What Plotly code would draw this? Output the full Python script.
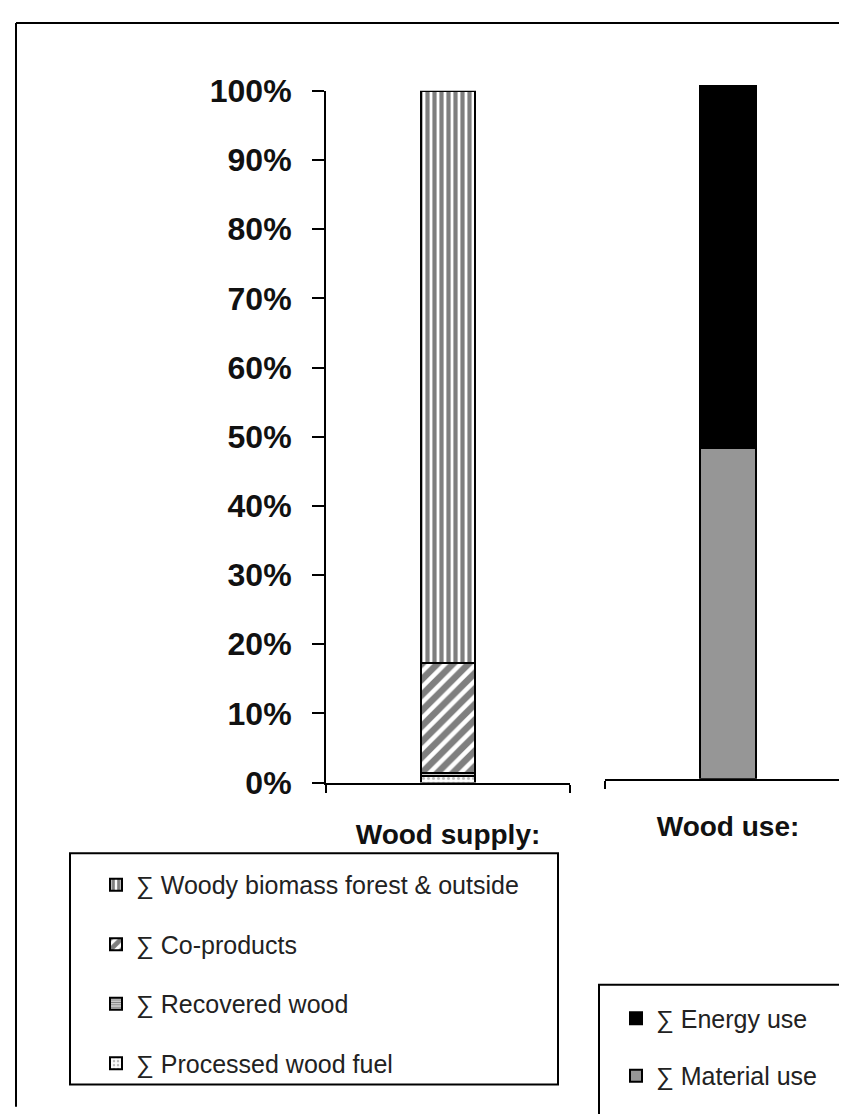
import plotly.graph_objects as go

# the page body adds an 8px margin, so the figure is drawn 8px smaller and
# every reference pixel position is shifted by OFF
OFF = 8
W, H = 847 - OFF, 1114 - OFF

# data (percent of total)
supply_cat = ["Wood supply:"]
supply_names = ["∑ Processed wood fuel", "∑ Recovered wood", "∑ Co-products",
                "∑ Woody biomass forest & outside"]
supply_values = [1.0, 0.4, 15.9, 82.7]
supply_rank = [4, 3, 2, 1]

use_cat = ["Wood use:"]
use_names = ["∑ Material use", "∑ Energy use"]
use_values = [47.7, 52.3]
use_rank = [2, 1]

y_ticks = [0, 10, 20, 30, 40, 50, 60, 70, 80, 90, 100]
y_ticktext = [f"{v}%" for v in y_ticks]


def px_x(x):
    return (x - OFF) / W


def px_y(y):
    return 1 - (y - OFF) / H


supply_styles = [
    dict(shape=".", fgcolor="#777777", bgcolor="white", size=5, solidity=0.3),
    dict(shape="-", fgcolor="black", bgcolor="white", size=3, solidity=0.6),
    dict(shape="/", fgcolor="black", bgcolor="white", size=11, solidity=0.6),
    dict(shape="|", fgcolor="black", bgcolor="white", size=7, solidity=0.6),
]
use_colors = ["#969696", "#000000"]

fig = go.Figure()

for name, val, pat, rk in zip(supply_names, supply_values, supply_styles, supply_rank):
    fig.add_trace(go.Bar(
        x=supply_cat, y=[val], name=name, width=0.222,
        marker=dict(color="white", pattern=pat, line=dict(color="black", width=2)),
        xaxis="x", yaxis="y", legend="legend", legendgroup=name, legendrank=rk,
    ))

for name, val, col, rk in zip(use_names, use_values, use_colors, use_rank):
    fig.add_trace(go.Bar(
        x=use_cat, y=[val], name=name, width=0.2276,
        marker=dict(color=col, line=dict(color="black", width=2)),
        xaxis="x2", yaxis="y2", legend="legend2", legendgroup=name, legendrank=rk,
    ))

tick_font = dict(family="Liberation Sans, Arial", size=32, color="#111111")
cat_font = dict(family="Liberation Sans, Arial", size=28, color="#111111")
leg_font = dict(family="Liberation Sans, Arial", size=25, color="#222222")

fig.update_layout(
    width=W, height=H,
    margin=dict(l=0, r=0, t=0, b=0),
    paper_bgcolor="white", plot_bgcolor="white",
    barmode="stack",
    xaxis=dict(
        domain=[px_x(326), px_x(570)], type="category", range=[-0.5, 0.5],
        tickson="boundaries", ticks="outside", ticklen=8, tickwidth=2, tickcolor="black",
        showline=True, linecolor="black", linewidth=2, showgrid=False,
        tickfont=dict(cat_font, weight="bold"), ticklabelstandoff=26,
    ),
    yaxis=dict(
        domain=[px_y(790), px_y(75)], range=[0, 100],
        tickvals=y_ticks, ticktext=y_ticktext,
        ticks="outside", ticklen=12, tickwidth=2, tickcolor="black",
        showline=True, linecolor="black", linewidth=2, showgrid=False, zeroline=False,
        tickfont=dict(tick_font, weight="bold"), ticklabelstandoff=14,
    ),
    xaxis2=dict(
        domain=[px_x(605), 1.0], type="category", range=[-0.5, 0.4837],
        tickson="boundaries", ticks="outside", ticklen=8, tickwidth=2, tickcolor="black",
        showline=True, linecolor="black", linewidth=2, showgrid=False,
        tickfont=dict(cat_font, weight="bold"), ticklabelstandoff=22, anchor="y2",
    ),
    yaxis2=dict(
        domain=[px_y(786), px_y(69)], range=[0, 100], visible=False, anchor="x2",
    ),
    legend=dict(
        x=px_x(96), y=px_y(872), xanchor="left", yanchor="top",
        font=leg_font, bgcolor="rgba(0,0,0,0)", borderwidth=0,
        traceorder="grouped", tracegroupgap=24,
    ),
    legend2=dict(
        x=px_x(616), y=px_y(1010), xanchor="left", yanchor="top",
        font=leg_font, bgcolor="rgba(0,0,0,0)", borderwidth=0,
        traceorder="grouped", tracegroupgap=22,
    ),
    shapes=[
        # outer frame (left and top edges visible)
        dict(type="line", xref="paper", yref="paper", x0=px_x(16), x1=px_x(16),
             y0=-0.01, y1=px_y(5), line=dict(color="black", width=2)),
        dict(type="line", xref="paper", yref="paper", x0=px_x(16), x1=1.01,
             y0=px_y(5), y1=px_y(5), line=dict(color="black", width=2)),
        # legend boxes
        dict(type="rect", xref="paper", yref="paper", x0=px_x(70), x1=px_x(558),
             y0=px_y(1102), y1=px_y(863), line=dict(color="black", width=2)),
        dict(type="rect", xref="paper", yref="paper", x0=px_x(599), x1=1.05,
             y0=-0.05, y1=px_y(999), line=dict(color="black", width=2)),
    ],
)

fig.write_html("out.html")
